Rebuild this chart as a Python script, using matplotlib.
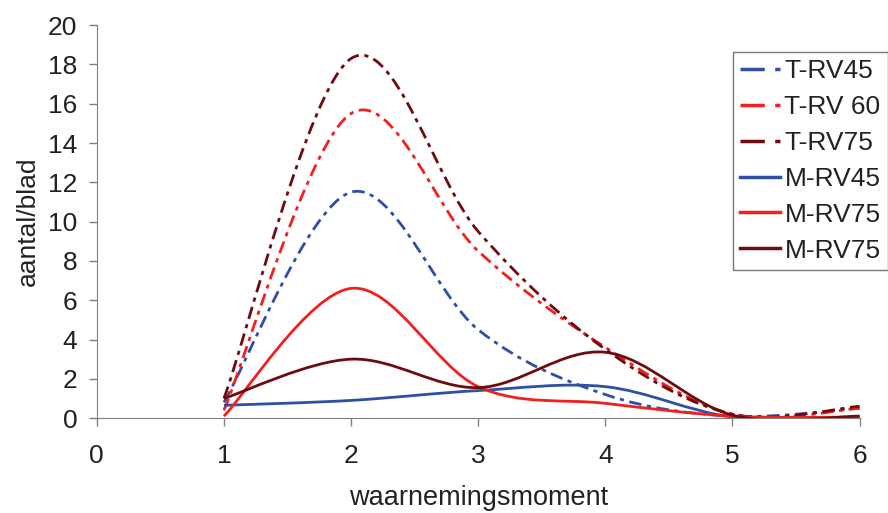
import matplotlib
matplotlib.use('Agg')
import matplotlib.pyplot as plt
from matplotlib.path import Path
from matplotlib.patches import PathPatch
from matplotlib.lines import Line2D
import numpy as np

plt.rcParams['font.family'] = ['Liberation Sans', 'DejaVu Sans']

x = [1, 2, 3, 4, 5, 6]
t_rv45 = [0.8, 11.5, 4.5, 1.2, 0.1, 0.5]
t_rv60 = [0.4, 15.5, 8.5, 3.6, 0.2, 0.5]
t_rv75 = [1.0, 18.3, 9.5, 3.5, 0.2, 0.6]
m_rv45 = [0.65, 0.9, 1.4, 1.6, 0.05, 0.05]
m_rv75a = [0.1, 6.6, 1.6, 0.75, 0.1, 0.05]
m_rv75b = [1.0, 3.0, 1.55, 3.35, 0.15, 0.1]

names = ['T-RV45', 'T-RV 60', 'T-RV75', 'M-RV45', 'M-RV75', 'M-RV75']
series = [t_rv45, t_rv60, t_rv75, m_rv45, m_rv75a, m_rv75b]
colors = ['#2f4fa3', '#f02020', '#6e0b10', '#2f4fa3', '#f02020', '#6e0b10']
dashed = [True, True, True, False, False, False]


def smooth_path(xs, ys):
    # excel-like smoothed line: bezier segments through the data points
    pts = np.column_stack([xs, ys]).astype(float)
    n = len(pts)
    verts = [pts[0]]
    codes = [Path.MOVETO]
    for i in range(n - 1):
        p0 = pts[i - 1] if i > 0 else pts[i]
        p1 = pts[i]
        p2 = pts[i + 1]
        p3 = pts[i + 2] if i + 2 < n else pts[i + 1]
        c1 = p1 + (p2 - p0) / 6.0
        c2 = p2 - (p3 - p1) / 6.0
        verts += [c1, c2, p2]
        codes += [Path.CURVE4] * 3
    return Path(verts, codes)


fig = plt.figure(figsize=(8.88, 5.13), dpi=100)
ax = fig.add_axes([0.109, 0.185, 0.859, 0.766])

dash_pat = (0, (4.5, 2, 1.5, 2))
handles = []
for ys, c, d, nm in zip(series, colors, dashed, names):
    ls = dash_pat if d else '-'
    patch = PathPatch(smooth_path(x, ys), facecolor='none', edgecolor=c,
                      lw=2, linestyle=ls, capstyle='butt')
    ax.add_patch(patch)
    handles.append(Line2D([], [], color=c, lw=2.5,
                          linestyle=(0, (7, 3, 2, 3)) if d else '-'))

ax.set_xlim(0, 6)
ax.set_ylim(0, 20)
ax.set_xticks(range(0, 7))
ax.set_yticks(range(0, 21, 2))
ax.tick_params(labelsize=19, length=6, width=1, direction='out')
ax.tick_params(axis='x', colors='#808080', labelcolor='#222222', pad=13)
ax.tick_params(axis='y', colors='#808080', labelcolor='#222222', pad=8)
for s in ['top', 'right']:
    ax.spines[s].set_visible(False)
for s in ['left', 'bottom']:
    ax.spines[s].set_color('#808080')
ax.set_xlabel('waarnemingsmoment', fontsize=19.5, labelpad=12,
              color='#222222')
ax.set_ylabel('aantal/blad', fontsize=19, labelpad=6, color='#222222')

leg = fig.legend(handles, names, loc='upper left',
                 bbox_to_anchor=(733 / 888, 1 - 52 / 513), fontsize=19,
                 frameon=True, fancybox=False, handlelength=1.5,
                 handletextpad=0.18, labelspacing=0.45, borderaxespad=0,
                 borderpad=0.27)
leg.get_frame().set_edgecolor('#555555')
leg.get_frame().set_linewidth(1)
for t in leg.get_texts():
    t.set_color('#222222')

fig.savefig('out.png', dpi=100)
